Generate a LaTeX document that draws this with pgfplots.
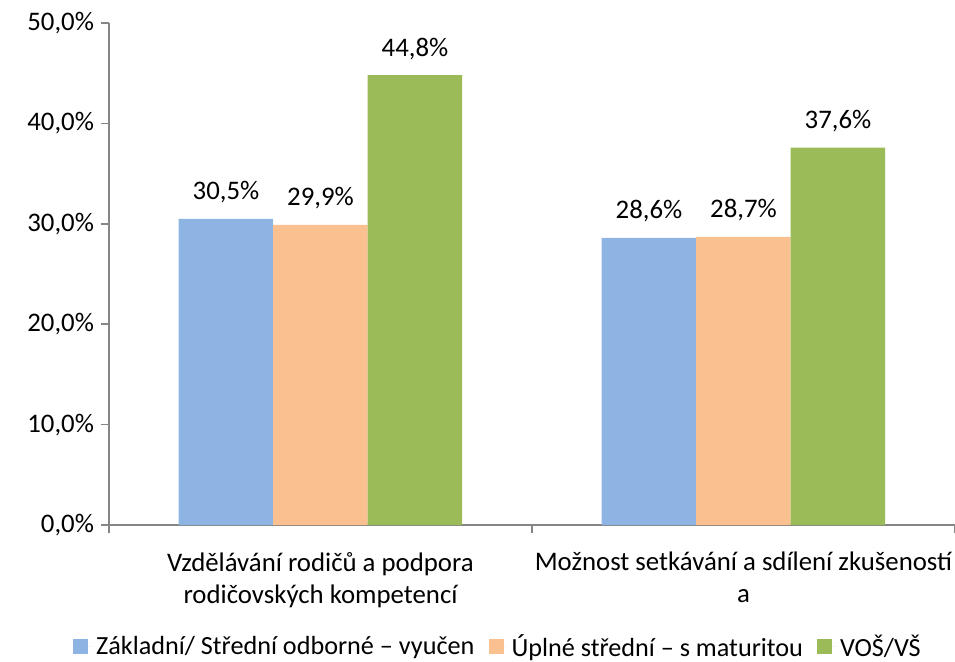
\documentclass[border=0pt]{standalone}
\usepackage{fontspec}
\setmainfont{Carlito}
\usepackage{pgfplots}
\pgfplotsset{compat=1.18}
\definecolor{cblue}{HTML}{8EB4E3}
\definecolor{corange}{HTML}{FAC090}
\definecolor{cgreen}{HTML}{9BBB59}
\definecolor{axgray}{HTML}{868686}
\pgfplotsset{sq/.style={legend image code/.code={\fill[##1] (0pt,-3.75pt) rectangle (7.5pt,3.75pt); \path (0pt,0pt) -- (9.5pt,0pt);}}}
\newcommand\ff{\fontsize{13.4pt}{16pt}\selectfont}
\begin{document}
\begin{tikzpicture}[font=\ff]
\useasboundingbox (-54.5pt,-68pt) rectangle (423pt,262.5pt);
\begin{axis}[
  scale only axis, width=423pt, height=251pt,
  at={(0,0)}, anchor=south west,
  xmin=-0.5, xmax=1.5, ymin=0, ymax=50,
  ybar=0pt, bar width=47.25pt,
  axis lines=left, axis line style={-, draw=axgray, line width=0.75pt},
  tick style={draw=axgray, line width=0.75pt},
  tick align=outside, major tick length=4pt,
  xtick={-0.5,0.5,1.5},
  xticklabels={{Vzdělávání rodičů a podpora\\rodičovských kompetencí},{Možnost setkávání a sdílení zkušeností\\a},{}},
  xticklabel style={xshift=105.75pt, yshift=-6pt, align=center, font=\ff},
  ytick={0,10,20,30,40,50},
  yticklabels={{0,0\%},{10,0\%},{20,0\%},{30,0\%},{40,0\%},{50,0\%}},
  yticklabel style={font=\ff},
  point meta=explicit symbolic,
  nodes near coords,
  every node near coord/.append style={anchor=base, yshift=9.5pt, font=\ff},
  legend style={at={(0.461,-0.243)}, anchor=center, draw=none, legend columns=3,
    font=\fontsize{13.1pt}{16pt}\selectfont,
    /tikz/every even column/.append style={column sep=5pt}},
  legend cell align=left,
]
\addplot[fill=cblue, draw=none, sq] coordinates {(0,30.5)[30,5\%] (1,28.6)[28,6\%]};
\addplot[fill=corange, draw=none, sq] coordinates {(0,29.9)[29,9\%] (1,28.7)[28,7\%]};
\addplot[fill=cgreen, draw=none, sq] coordinates {(0,44.8)[44,8\%] (1,37.6)[37,6\%]};
\legend{Základní/ Střední odborné – vyučen, Úplné střední – s maturitou, VOŠ/VŠ}
\end{axis}
\end{tikzpicture}
\end{document}
